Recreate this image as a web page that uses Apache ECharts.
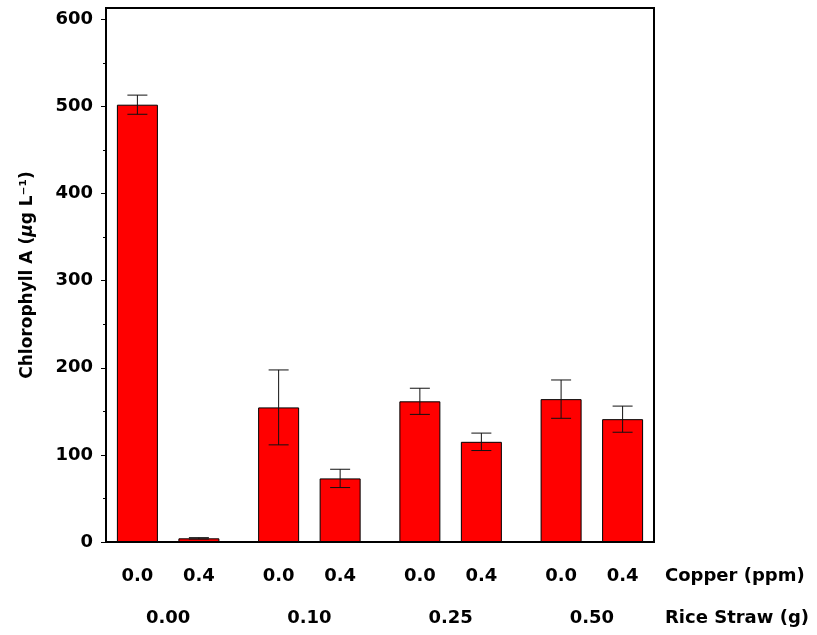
<!DOCTYPE html>
<html>
<head>
<meta charset="utf-8">
<script src="https://cdn.jsdelivr.net/npm/echarts@6/dist/echarts.min.js"></script>
<style>html,body{margin:0;padding:0;background:#fff}#c{width:817px;height:635px}</style>
</head>
<body>
<div id="c"></div>
<script>
// ---- data ----
const riceStraw = ['0.00', '0.10', '0.25', '0.50'];   // Rice Straw (g) groups
const copper = ['0.0', '0.4'];                         // Copper (ppm) levels
const meanCu00 = [502, 154.5, 161.5, 164];             // Chlorophyll A, Cu 0.0
const errCu00 = [11, 43, 15, 22];
const meanCu04 = [4.2, 73, 115, 141];                  // Chlorophyll A, Cu 0.4
const errCu04 = [0.8, 10.5, 10, 15];
const yTicks = [0, 100, 200, 300, 400, 500, 600];
const yMinorTicks = [50, 150, 250, 350, 450, 550];

// ---- style / layout ----
const FONT = 'DejaVu Sans';
const BAR_W = 41;
const BAR_GAP = 0.5;
const HALF_SHIFT = BAR_W * (1 + BAR_GAP) / 2;
const X_MIN = -0.44, X_MAX = 3.44, Y_MAX = 613;

const groupIdx = riceStraw.map((_, i) => i);
const barData = means => means.map((v, i) => [groupIdx[i], v]);
const errData = (means, errs) => means.map((v, i) => [groupIdx[i], v - errs[i], v + errs[i]]);

function errRender(shift) {
  return function (params, api) {
    const x = api.value(0), lo = api.value(1), hi = api.value(2);
    const pLo = api.coord([x, lo]);
    const pHi = api.coord([x, hi]);
    const cx = pLo[0] + shift;
    const cap = 10;
    const st = { stroke: '#111', lineWidth: 1 };
    return {
      type: 'group',
      children: [
        { type: 'line', shape: { x1: cx, y1: pLo[1], x2: cx, y2: pHi[1] }, style: st },
        { type: 'line', shape: { x1: cx - cap, y1: pLo[1], x2: cx + cap, y2: pLo[1] }, style: st },
        { type: 'line', shape: { x1: cx - cap, y1: pHi[1], x2: cx + cap, y2: pHi[1] }, style: st }
      ]
    };
  };
}

const labelStyle = { fontFamily: FONT, fontWeight: 'bold', fontSize: 18, color: '#000' };

function barSeries(means, lvl) {
  return {
    type: 'bar',
    xAxisIndex: 0, yAxisIndex: 0,
    data: barData(means),
    barWidth: BAR_W,
    barGap: (BAR_GAP * 100) + '%',
    itemStyle: { color: '#ff0000', borderColor: '#000', borderWidth: 1 },
    label: Object.assign({
      show: true,
      position: ['50%', '100%'],
      offset: [0, 34],
      align: 'center',
      verticalAlign: 'middle',
      formatter: () => copper[lvl]
    }, labelStyle),
    emphasis: { disabled: true },
    animation: false
  };
}

const chart = echarts.init(document.getElementById('c'), null, { renderer: 'canvas' });
chart.setOption({
  animation: false,
  backgroundColor: '#fff',
  grid: {
    left: 106, right: 163, top: 8, bottom: 93,
    show: true, borderColor: '#000', borderWidth: 2, backgroundColor: 'transparent'
  },
  xAxis: [
    {
      type: 'value', position: 'bottom', offset: 0, min: X_MIN, max: X_MAX,
      axisLine: { show: true, onZero: false, lineStyle: { color: '#000', width: 2 } },
      axisTick: { show: false }, axisLabel: { show: false }, splitLine: { show: false }
    },
    {
      type: 'value', position: 'bottom', offset: 34, min: X_MIN, max: X_MAX,
      axisLine: { show: false, onZero: false }, axisTick: { show: false }, axisLabel: { show: false }, splitLine: { show: false },
      name: 'Copper (ppm)', nameLocation: 'end', nameGap: 11,
      nameTextStyle: Object.assign({ verticalAlign: 'middle', align: 'left' }, labelStyle)
    },
    {
      type: 'value', position: 'bottom', offset: 76, min: X_MIN, max: X_MAX,
      axisLine: { show: false, onZero: false }, axisTick: { show: false }, splitLine: { show: false },
      axisLabel: Object.assign({
        show: true, customValues: groupIdx, margin: 0, verticalAlign: 'middle',
        formatter: v => riceStraw[Math.round(v)]
      }, labelStyle),
      name: 'Rice Straw (g)', nameLocation: 'end', nameGap: 11,
      nameTextStyle: Object.assign({ verticalAlign: 'middle', align: 'left' }, labelStyle)
    }
  ],
  yAxis: [
    {
      type: 'value', position: 'left', min: 0, max: Y_MAX,
      axisLine: { show: true, onZero: false, lineStyle: { color: '#000', width: 2 } },
      axisTick: { show: true, customValues: yTicks, length: 5, inside: false, lineStyle: { color: '#000', width: 1 } },
      axisLabel: Object.assign({ show: true, customValues: yTicks, margin: 13 }, labelStyle),
      splitLine: { show: false },
      name: '{a|Chlorophyll A (}{b|μ}{a|g L⁻¹)}',
      nameLocation: 'middle', nameRotate: 90, nameGap: 70,
      nameTextStyle: {
        rich: {
          a: { fontFamily: FONT, fontWeight: 'bold', fontSize: 17, color: '#000' },
          b: { fontFamily: FONT, fontWeight: 'bold', fontStyle: 'italic', fontSize: 17, color: '#000' }
        }
      }
    },
    {
      type: 'value', position: 'left', offset: 0, min: 0, max: Y_MAX,
      axisLine: { show: false, onZero: false },
      axisTick: { show: true, customValues: yMinorTicks, length: 3, inside: false, lineStyle: { color: '#000', width: 1 } },
      axisLabel: { show: false }, splitLine: { show: false }
    }
  ],
  series: [
    barSeries(meanCu00, 0),
    barSeries(meanCu04, 1),
    {
      type: 'custom', xAxisIndex: 0, yAxisIndex: 0, z: 5,
      data: errData(meanCu00, errCu00), renderItem: errRender(-HALF_SHIFT), animation: false, silent: true
    },
    {
      type: 'custom', xAxisIndex: 0, yAxisIndex: 0, z: 5,
      data: errData(meanCu04, errCu04), renderItem: errRender(HALF_SHIFT), animation: false, silent: true
    }
  ]
});
</script>
</body>
</html>
